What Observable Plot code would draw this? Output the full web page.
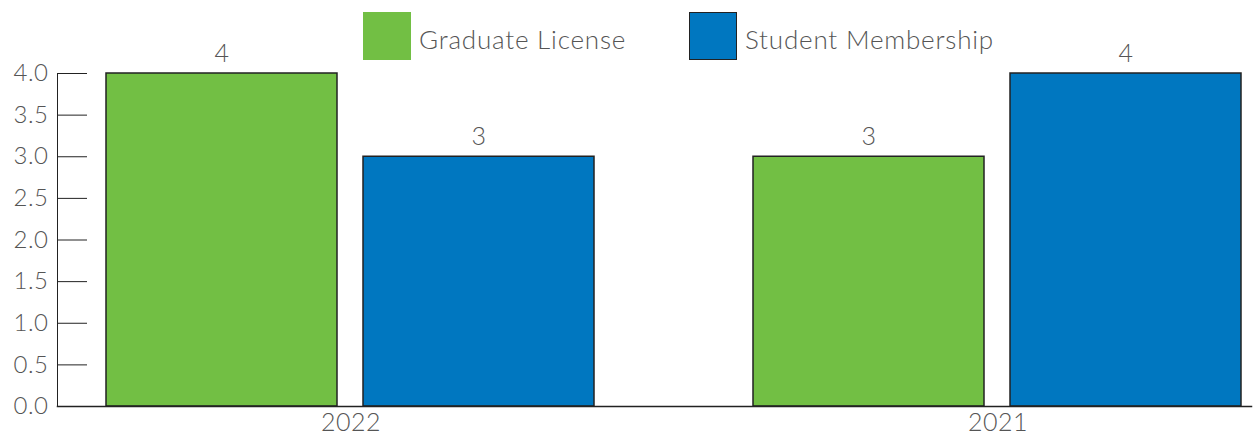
<!DOCTYPE html>
<html><head><meta charset="utf-8">
<script src="https://cdn.jsdelivr.net/npm/d3@7"></script>
<script src="https://cdn.jsdelivr.net/npm/@observablehq/plot@0.6"></script>
<style>
body{margin:0;background:#fff;font-family:Lato,sans-serif;font-weight:300;}
#wrap{position:relative;width:1259px;height:440px;}
.legend-item{position:absolute;top:12px;display:flex;align-items:center;font-size:26px;letter-spacing:0.8px;color:#555;font-weight:300;}
.legend-item span{padding-top:6px}
.sw{width:48px;height:48px;box-sizing:border-box;margin-right:8px}
</style></head><body><div id="wrap"></div>
<script>
const years = ["2022", "2021"];
const series = ["Graduate License", "Student Membership"];
const graduateLicense = [4, 3];
const studentMembership = [3, 4];
const colors = ["#72bf44", "#0077c0"];
const yTicks = [0, 0.5, 1, 1.5, 2, 2.5, 3, 3.5, 4];

const data = years.flatMap((y, i) => [
  {year: y, series: series[0], value: graduateLicense[i]},
  {year: y, series: series[1], value: studentMembership[i]}
]);

const chart = Plot.plot({
  width: 1259, height: 440,
  marginLeft: 57, marginRight: 7, marginTop: 73, marginBottom: 34,
  style: {fontFamily: "Lato, sans-serif", fontSize: "24px", fontWeight: 300, color: "#555", background: "#fff", letterSpacing: "0.5px", overflow: "visible"},
  fx: {domain: years, paddingInner: 0.154, paddingOuter: 0, label: null},
  x: {domain: series, paddingInner: 0.1008, paddingOuter: 0.1124, align: 0.835, axis: null},
  y: {domain: [0, 4], label: null},
  color: {domain: series, range: colors},
  marks: [
    Plot.axisFx({anchor: "bottom", tickSize: 0, tickPadding: 7, dx: 20, label: null, fill: "#555", fontSize: 25}),
    Plot.axisY({ticks: yTicks, tickSize: -30, tickPadding: 39, tickFormat: d3.format(".1f"), label: null, stroke: "#222", fill: "#555", fontSize: 24}),
    Plot.barY(data, {fx: "year", x: "series", y: "value", fill: "series", stroke: "#222", strokeWidth: 1.5}),
    Plot.text(data, {fx: "year", x: "series", y: "value", text: d => String(d.value), lineAnchor: "bottom", dy: -12, fill: "#555", fontSize: 25}),
    Plot.frame({anchor: "left", facet: "super", stroke: "#222"}),
    Plot.frame({anchor: "bottom", facet: "super", stroke: "#222", strokeWidth: 1.5})
  ]
});
const wrap = document.getElementById("wrap");
wrap.appendChild(chart);

const legendLeft = [363, 689];
series.forEach((s, i) => {
  const item = document.createElement("div");
  item.className = "legend-item";
  item.style.left = legendLeft[i] + "px";
  const sw = document.createElement("div");
  sw.className = "sw";
  sw.style.background = colors[i];
  if (i === 1) sw.style.border = "1.5px solid #222";
  const lbl = document.createElement("span");
  lbl.textContent = s;
  item.appendChild(sw); item.appendChild(lbl);
  wrap.appendChild(item);
});
</script></body></html>
